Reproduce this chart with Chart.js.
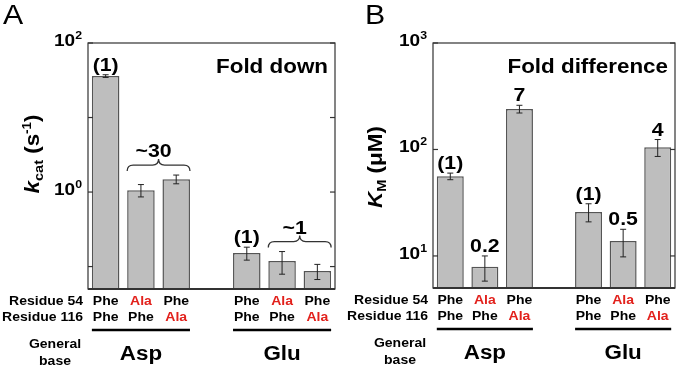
<!DOCTYPE html>
<html>
<head>
<meta charset="utf-8">
<script src="https://cdn.jsdelivr.net/npm/chart.js@4"></script>
<style>
  html, body { margin: 0; padding: 0; background: #fff; }
  #wrap { position: relative; width: 680px; height: 370px; }
  #wrap canvas { position: absolute; top: 0; }
</style>
</head>
<body>
<div id="wrap">
  <canvas id="chartA" width="340" height="370" style="left:0"></canvas>
  <canvas id="chartB" width="340" height="370" style="left:340px"></canvas>
</div>
<script>
// residues at positions 54 / 116 for each bar (index 3 is the gap between groups)
var res54 = ['Phe', 'Ala', 'Phe', '', 'Phe', 'Ala', 'Phe'];
var res116 = ['Phe', 'Phe', 'Ala', '', 'Phe', 'Phe', 'Ala'];
var groups = [[0, 2, 'Asp'], [4, 6, 'Glu']];

// panel A: kcat (s-1)
var kcat = [36, 1.06, 1.49, null, 0.152, 0.119, 0.087];
var kcatErr = [1.5, 0.2, 0.2, null, 0.03, 0.04, 0.02];
var kcatNotes = ['(1)', '', '', '', '(1)', '', ''];
var kcatBraces = [[1, 2, '~30'], [5, 6, '~1']];
var kcatTicks = [0.1, 1, 10, 100];
var kcatTickExp = ['', '0', '', '2'];

// panel B: KM (uM)
var km = [56, 7.9, 240, null, 25.9, 13.8, 105];
var kmErr = [4, 2.1, 20, null, 5, 4, 19];
var kmNotes = ['(1)', '0.2', '7', '', '(1)', '0.5', '4'];
var kmTicks = [10, 100, 1000];
var kmTickExp = ['1', '2', '3'];

var FONT = '"Liberation Sans", Arial, Helvetica, sans-serif';
var SX = 1.12;   // the original lettering is a bit wide
var RED = '#e2211c';

function txt(ctx, s, x, y, size, o) {
  o = o || {};
  ctx.save();
  ctx.font = (o.style || 'bold') + ' ' + size + 'px ' + FONT;
  ctx.fillStyle = o.color || '#000';
  ctx.textAlign = o.align || 'center';
  ctx.textBaseline = o.baseline || 'alphabetic';
  ctx.translate(x, y);
  ctx.scale(SX, 1);
  ctx.fillText(s, 0, 0);
  ctx.restore();
}

function runs(ctx, parts, x, y, align) {
  var w = 0;
  parts.forEach(function(p) {
    ctx.font = (p.style || 'bold') + ' ' + p.size + 'px ' + FONT;
    p.w = ctx.measureText(p.t).width * SX;
    w += p.w;
  });
  var cx = align === 'right' ? x - w : (align === 'center' ? x - w / 2 : x);
  parts.forEach(function(p) {
    txt(ctx, p.t, cx, y + (p.dy || 0), p.size, { style: p.style, align: 'left' });
    cx += p.w;
  });
}

function seg(ctx, x0, y0, x1, y1) {
  ctx.beginPath(); ctx.moveTo(x0, y0); ctx.lineTo(x1, y1); ctx.stroke();
}

function brace(ctx, x0, x1, yb) {
  var h = 12, r = 6, xm = (x0 + x1) / 2, ym = yb - h / 2;
  ctx.beginPath();
  ctx.moveTo(x0, yb);
  ctx.quadraticCurveTo(x0, ym, x0 + r, ym);
  ctx.lineTo(xm - r, ym);
  ctx.quadraticCurveTo(xm, ym, xm, yb - h);
  ctx.quadraticCurveTo(xm, ym, xm + r, ym);
  ctx.lineTo(x1 - r, ym);
  ctx.quadraticCurveTo(x1, ym, x1, yb);
  ctx.stroke();
}

var panels = {
  chartA: {
    letter: 'A', letterX: 3, corner: 'Fold down',
    values: kcat, err: kcatErr, notes: kcatNotes, braces: kcatBraces,
    min: 0.05, max: 100, ticks: kcatTicks, exps: kcatTickExp,
    padding: { left: 88, top: 43, right: 5, bottom: 81 },
    titleX: 32, titleY: 154,
    title: [{ t: 'k', size: 20, style: 'italic bold' }, { t: 'cat', size: 13, dy: 4 },
            { t: ' (s', size: 20 }, { t: '-1', size: 12, dy: -8 }, { t: ')', size: 20 }]
  },
  chartB: {
    letter: 'B', letterX: 25, corner: 'Fold difference',
    values: km, err: kmErr, notes: kmNotes, braces: [],
    min: 5, max: 1000, ticks: kmTicks, exps: kmTickExp,
    padding: { left: 93, top: 43, right: 5, bottom: 82 },
    titleX: 35, titleY: 167,
    title: [{ t: 'K', size: 20, style: 'italic bold' }, { t: 'M', size: 13, dy: 4 },
            { t: ' (\u03bcM)', size: 20 }]
  }
};

var panelPlugin = {
  id: 'panel',
  afterDraw: function(chart) {
    var p = panels[chart.canvas.id];
    var ctx = chart.ctx, a = chart.chartArea;
    var xs = chart.scales.x, ys = chart.scales.y;
    var half = chart.getDatasetMeta(0).data[0].width / 2;
    ctx.save();
    ctx.strokeStyle = '#333';
    ctx.lineWidth = 1.2;
    ctx.strokeRect(a.left, a.top, a.right - a.left, a.bottom - a.top);
    ctx.lineWidth = 1.8;
    seg(ctx, a.left, a.bottom, a.right, a.bottom);

    // decade ticks, inward on both sides
    ctx.lineWidth = 1.2;
    p.ticks.forEach(function(t, i) {
      var y = ys.getPixelForValue(t);
      seg(ctx, a.left, y, a.left + 5, y);
      seg(ctx, a.right - 5, y, a.right, y);
      if (p.exps[i]) {
        runs(ctx, [{ t: '10', size: 17 }, { t: p.exps[i], size: 11, dy: -7 }], a.left - 6, y + 3, 'right');
      }
    });

    // error bars and notes above them
    var tops = [];
    ctx.strokeStyle = '#222';
    ctx.lineWidth = 1;
    p.values.forEach(function(v, i) {
      if (v == null) return;
      var x = xs.getPixelForValue(i);
      var hi = ys.getPixelForValue(v + p.err[i]);
      var lo = ys.getPixelForValue(Math.max(v - p.err[i], p.min));
      seg(ctx, x, hi, x, lo);
      seg(ctx, x - 3, hi, x + 3, hi);
      seg(ctx, x - 3, lo, x + 3, lo);
      tops[i] = Math.min(hi, ys.getPixelForValue(v));
      if (p.notes[i]) txt(ctx, p.notes[i], x, tops[i] - 4, 19);
    });

    // braces over compared bars
    ctx.strokeStyle = '#333';
    ctx.lineWidth = 1.3;
    p.braces.forEach(function(b) {
      var x0 = xs.getPixelForValue(b[0]) - half, x1 = xs.getPixelForValue(b[1]) + half;
      var yb = Math.min(tops[b[0]], tops[b[1]]) - 4;
      brace(ctx, x0, x1, yb);
      txt(ctx, b[2], (x0 + x1) / 2 - 5, yb - 14, 19);
    });

    // residue rows, group lines, general base
    var yb = a.bottom;
    txt(ctx, 'Residue 54', a.left - 5, yb + 16, 12.5, { align: 'right' });
    txt(ctx, 'Residue 116', a.left - 5, yb + 32, 12.5, { align: 'right' });
    res54.forEach(function(r, i) {
      if (!r) return;
      var x = xs.getPixelForValue(i);
      txt(ctx, r, x, yb + 16, 12.5, { color: r === 'Ala' ? RED : '#000' });
      txt(ctx, res116[i], x, yb + 32, 12.5, { color: res116[i] === 'Ala' ? RED : '#000' });
    });
    ctx.strokeStyle = '#000';
    ctx.lineWidth = 2.5;
    groups.forEach(function(g) {
      var x0 = xs.getPixelForValue(g[0]) - half, x1 = xs.getPixelForValue(g[1]) + half;
      seg(ctx, x0, yb + 41, x1, yb + 41);
      txt(ctx, g[2], (x0 + x1) / 2, yb + 71, 20);
    });
    txt(ctx, 'General', a.left - 33, yb + 59, 12.5);
    txt(ctx, 'base', a.left - 33, yb + 76, 12.5);

    // corner note and panel letter
    txt(ctx, p.corner, a.right - 7, a.top + 30, 20, { align: 'right' });
    txt(ctx, p.letter, p.letterX, 24, 27, { style: 'normal', align: 'left' });

    // rotated y title
    ctx.save();
    ctx.translate(p.titleX, p.titleY);
    ctx.rotate(-Math.PI / 2);
    runs(ctx, p.title, 0, 7, 'center');
    ctx.restore();
    ctx.restore();
  }
};

function makePanel(id) {
  var p = panels[id];
  new Chart(document.getElementById(id), {
    type: 'bar',
    data: {
      labels: res54.map(function(r, i) { return r + ' ' + res116[i]; }),
      datasets: [{
        data: p.values,
        backgroundColor: '#bebebe',
        borderColor: '#555',
        borderWidth: 1.5,
        barPercentage: 0.78,
        categoryPercentage: 1
      }]
    },
    options: {
      responsive: false,
      animation: false,
      layout: { padding: p.padding },
      scales: {
        x: { display: false },
        y: { type: 'logarithmic', display: false, min: p.min, max: p.max }
      },
      plugins: { legend: { display: false }, tooltip: { enabled: false } }
    },
    plugins: [panelPlugin]
  });
}

makePanel('chartA');
makePanel('chartB');
</script>
</body>
</html>
